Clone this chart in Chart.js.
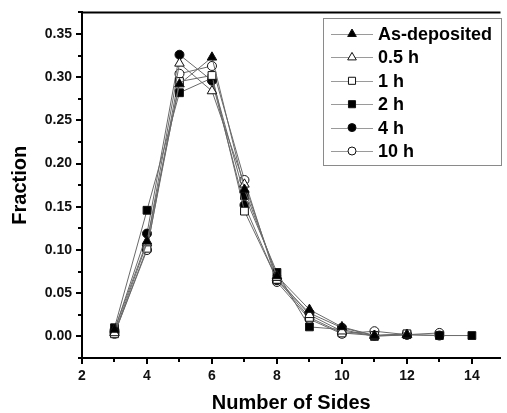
<!DOCTYPE html>
<html>
<head>
<meta charset="utf-8">
<script src="https://cdn.jsdelivr.net/npm/chart.js@4/dist/chart.umd.min.js"></script>
<style>
html,body{margin:0;padding:0;background:#fff;}
#c{display:block;}
</style>
</head>
<body>
<canvas id="c" width="507" height="413"></canvas>
<script>
// ---- data ----
const sides = [3, 4, 5, 6, 7, 8, 9, 10, 11, 12, 13, 14];
const asDeposited = [0.008, 0.110, 0.292, 0.323, 0.170, 0.070, 0.031, 0.011, 0.001, 0.002, null, null];
const h05 = [0.004, 0.108, 0.316, 0.284, 0.176, 0.068, 0.025, 0.006, 0.001, 0.002, null, null];
const h1 = [0.003, 0.102, 0.295, 0.302, 0.145, 0.066, 0.022, 0.004, 0.001, 0.003, null, null];
const h2 = [0.010, 0.146, 0.282, 0.299, 0.163, 0.074, 0.011, 0.008, 0.000, 0.002, 0.001, 0.001];
const h4 = [0.007, 0.119, 0.326, 0.296, 0.152, 0.065, 0.027, 0.010, 0.001, 0.002, 0.001, null];
const h10 = [0.003, 0.100, 0.304, 0.313, 0.181, 0.063, 0.020, 0.003, 0.006, 0.002, 0.004, null];
const seriesLabels = ['As-deposited', '0.5 h', '1 h', '2 h', '4 h', '10 h'];
const seriesValues = [asDeposited, h05, h1, h2, h4, h10];
const xTickLabels = ['2', '4', '6', '8', '10', '12', '14'];
const yTickLabels = ['0.00', '0.05', '0.10', '0.15', '0.20', '0.25', '0.30', '0.35'];

// ---- styles ----
const markerStyles = [
  {pointStyle: 'triangle', radius: 5.5, fill: '#000'},
  {pointStyle: 'triangle', radius: 5.5, fill: '#fff'},
  {pointStyle: 'rect', radius: 5.5, fill: '#fff'},
  {pointStyle: 'rect', radius: 5.5, fill: '#000'},
  {pointStyle: 'circle', radius: 4.5, fill: '#000'},
  {pointStyle: 'circle', radius: 4.5, fill: '#fff'}
];
const LINE = '#6a6a6a';
const FONT = "'Liberation Sans', Arial, sans-serif";

function toPoints(vals) {
  const pts = [];
  vals.forEach((v, i) => { if (v !== null) pts.push({x: sides[i], y: v}); });
  return pts;
}

const datasets = seriesLabels.map((lab, i) => ({
  label: lab,
  data: toPoints(seriesValues[i]),
  borderColor: LINE,
  borderWidth: 1,
  pointStyle: markerStyles[i].pointStyle,
  pointRadius: markerStyles[i].radius,
  pointHoverRadius: markerStyles[i].radius,
  pointBackgroundColor: markerStyles[i].fill,
  pointBorderColor: '#111',
  pointBorderWidth: 1,
  tension: 0,
  fill: false
}));

function drawMarker(ctx, style, r, x, y, fill) {
  ctx.save();
  ctx.beginPath();
  if (style === 'triangle') {
    let rad = 0;
    ctx.moveTo(x + Math.sin(rad) * r, y - Math.cos(rad) * r);
    rad += 2 * Math.PI / 3;
    ctx.lineTo(x + Math.sin(rad) * r, y - Math.cos(rad) * r);
    rad += 2 * Math.PI / 3;
    ctx.lineTo(x + Math.sin(rad) * r, y - Math.cos(rad) * r);
    ctx.closePath();
  } else if (style === 'rect') {
    const s = r * Math.SQRT1_2;
    ctx.rect(x - s, y - s, 2 * s, 2 * s);
  } else {
    ctx.arc(x, y, r, 0, Math.PI * 2);
  }
  ctx.fillStyle = fill;
  ctx.fill();
  ctx.strokeStyle = '#111';
  ctx.lineWidth = 1;
  ctx.stroke();
  ctx.restore();
}

const framePlugin = {
  id: 'frame',
  afterDraw(chart) {
    const ctx = chart.ctx;
    const a = chart.chartArea;
    const xs = chart.scales.x, ys = chart.scales.y;
    ctx.save();
    ctx.strokeStyle = '#000';
    ctx.lineWidth = 2;
    // top frame line
    ctx.beginPath();
    ctx.moveTo(a.left - 1, a.top);
    ctx.lineTo(a.right, a.top);
    ctx.stroke();
    // y ticks (major every 0.05, minor every 0.025)
    for (let i = -1; i <= 15; i++) {
      const v = i * 0.025;
      const py = Math.round(ys.getPixelForValue(v));
      const len = (i % 2 === 0) ? 6 : 4;
      ctx.beginPath();
      ctx.moveTo(a.left, py);
      ctx.lineTo(a.left - len, py);
      ctx.stroke();
    }
    // x ticks (major even, minor odd)
    for (let v = 2; v <= 14; v++) {
      const px = Math.round(xs.getPixelForValue(v));
      const len = (v % 2 === 0) ? 6 : 4;
      ctx.beginPath();
      ctx.moveTo(px, a.bottom);
      ctx.lineTo(px, a.bottom + len);
      ctx.stroke();
    }
    ctx.restore();

    // legend box
    const bx = 323, by = 18, bw = 178, bh = 147;
    ctx.save();
    ctx.fillStyle = '#fff';
    ctx.fillRect(bx, by, bw, bh);
    ctx.strokeStyle = '#8a8a8a';
    ctx.lineWidth = 1;
    ctx.strokeRect(bx + 0.5, by + 0.5, bw, bh);
    chart.data.datasets.forEach((ds, i) => {
      const y = 34 + i * 23.4;
      ctx.strokeStyle = '#9a9a9a';
      ctx.lineWidth = 1;
      ctx.beginPath();
      ctx.moveTo(331, Math.round(y) + 0.5);
      ctx.lineTo(373, Math.round(y) + 0.5);
      ctx.stroke();
      drawMarker(ctx, ds.pointStyle, ds.pointRadius - 0.5, 352, y, ds.pointBackgroundColor);
      ctx.fillStyle = '#000';
      ctx.font = 'bold 18px ' + FONT;
      ctx.textBaseline = 'middle';
      ctx.textAlign = 'left';
      ctx.fillText(ds.label, 378, y + 1);
    });
    ctx.restore();
  }
};

function nearMultiple(v, step) {
  return Math.abs(Math.round(v / step) * step - v) < 1e-9;
}

new Chart(document.getElementById('c'), {
  type: 'line',
  data: {datasets},
  options: {
    responsive: false,
    animation: false,
    devicePixelRatio: 1,
    layout: {padding: {top: 11, left: 0, right: 0, bottom: 0}},
    plugins: {legend: {display: false}, tooltip: {enabled: false}},
    scales: {
      x: {
        type: 'linear',
        min: 2,
        max: 14.88,
        afterFit(s) { s.height = 55; },
        afterBuildTicks(s) { s.ticks = xTickLabels.map(t => ({value: Number(t)})); },
        border: {display: true, color: '#000', width: 2},
        grid: {display: true, drawOnChartArea: false, drawTicks: true, tickLength: 6, tickColor: 'rgba(0,0,0,0)'},
        ticks: {
          autoSkip: false,
          maxRotation: 0,
          padding: 4,
          color: '#111',
          font: {family: FONT, size: 14, weight: 'bold'},
          callback(v) { return String(v); }
        },
        title: {
          display: true,
          text: 'Number of Sides',
          color: '#000',
          font: {family: FONT, size: 20, weight: 'bold', lineHeight: 1},
          padding: {top: 0, bottom: 0}
        }
      },
      y: {
        type: 'linear',
        min: -0.025,
        max: 0.375,
        afterFit(s) { s.width = 82; },
        afterBuildTicks(s) { s.ticks = yTickLabels.map(t => ({value: Number(t)})); },
        border: {display: true, color: '#000', width: 2},
        grid: {display: true, drawOnChartArea: false, drawTicks: true, tickLength: 6, tickColor: 'rgba(0,0,0,0)'},
        ticks: {
          autoSkip: false,
          padding: 4,
          color: '#111',
          font: {family: FONT, size: 14, weight: 'bold'},
          callback(v) { return (Math.abs(v) < 1e-9 ? 0 : v).toFixed(2); }
        },
        title: {
          display: true,
          text: 'Fraction',
          color: '#000',
          font: {family: FONT, size: 20, weight: 'bold', lineHeight: 1},
          padding: {top: 10, bottom: 0}
        }
      }
    }
  },
  plugins: [framePlugin]
});
</script>
</body>
</html>
